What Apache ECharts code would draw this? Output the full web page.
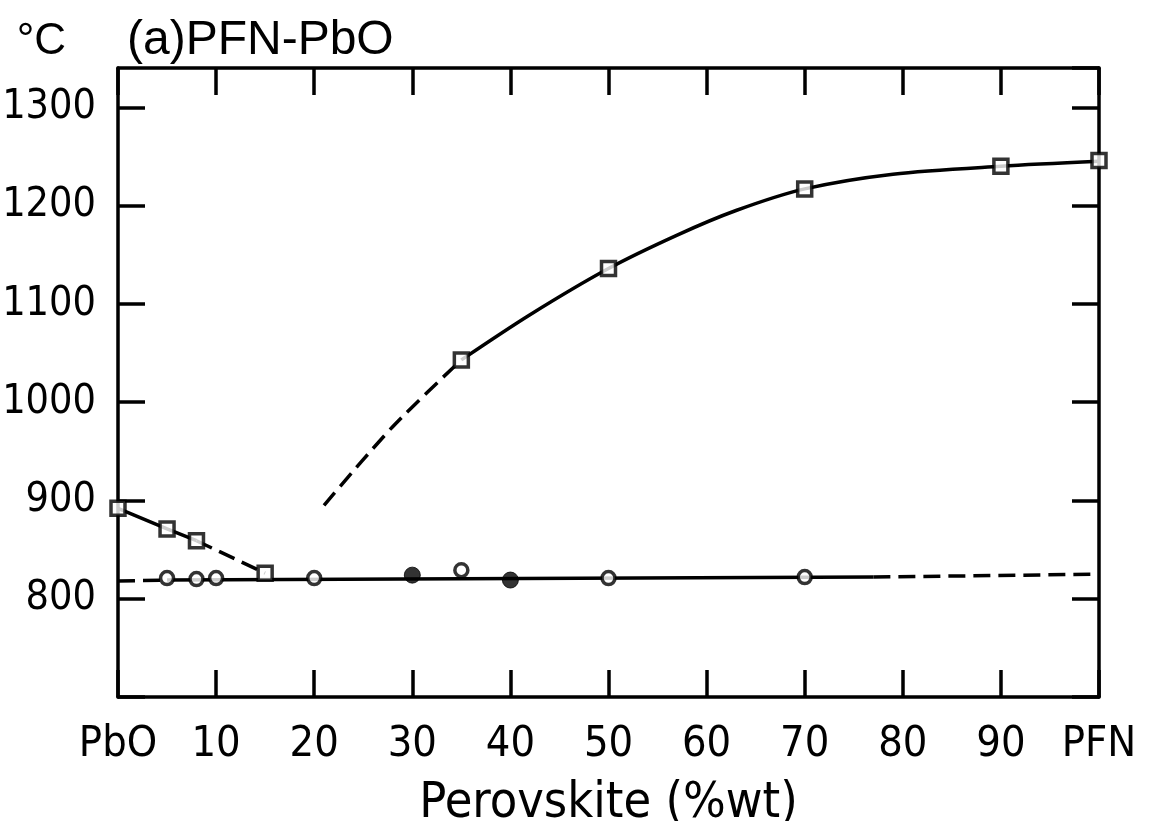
<!DOCTYPE html>
<html>
<head>
<meta charset="utf-8">
<title>PFN-PbO phase diagram</title>
<script src="https://cdn.jsdelivr.net/npm/echarts@6/dist/echarts.min.js"></script>
<style>
  html, body { margin: 0; padding: 0; background: #fff; }
  #chart { width: 1152px; height: 821px; }
</style>
</head>
<body>
<div id="chart"></div>
<script>
// Composition axis end members (0 %wt and 100 %wt perovskite)
const xEndLabels = { 0: 'PbO', 100: 'PFN' };

// Liquidus measurements (open squares), composition in %wt, temperature in °C
const liquidusX = [0, 5, 8, 15, 35, 50, 70, 90, 100];
const liquidusT = [892, 871, 859, 826, 1043, 1136, 1217, 1240, 1246];

// Solidus measurements: open circles and filled circles
const solidusOpenX = [5, 8, 10, 20, 35, 50, 70];
const solidusOpenT = [821, 820, 821, 821, 829, 821, 822];
const solidusFilledX = [30, 40];
const solidusFilledT = [824, 819];

// Drawn boundary curves
const liqLeftSolid   = [[0, 892], [5, 871], [8, 859]];
const liqLeftDashed  = [[8, 859], [15, 826]];
const liqRightDashed = [[21, 895], [28, 975], [35, 1043]];
const liqRightSolid  = [[35, 1043], [42, 1089], [50, 1136], [57, 1170], [63, 1195],
                        [70, 1217], [79, 1232], [90, 1240], [100, 1245]];
const solLeftDashed  = [[0, 818], [5, 819]];
const solSolid       = [[5, 819], [77, 822]];
const solRightDashed = [[77, 822], [100, 825]];

const zip = (xs, ys) => xs.map((x, i) => [x, ys[i]]);

const INK = '#000';
const LABEL_FONT = '"Liberation Sans Narrow", "Arial Narrow", "DejaVu Sans Condensed", "Liberation Sans", sans-serif';
const lineW = 3.5;

function frameAxis(extra) {
  return Object.assign({
    axisLine: { show: true, onZero: false, lineStyle: { color: INK, width: lineW } },
    axisTick: { show: true, inside: true, length: 27, lineStyle: { color: INK, width: lineW } },
    splitLine: { show: false }
  }, extra);
}

function curve(data, dashed, smooth) {
  return {
    type: 'line',
    data: data,
    showSymbol: false,
    symbol: 'none',
    smooth: smooth ? 0.3 : false,
    silent: true,
    z: 2,
    lineStyle: { color: INK, width: lineW, type: dashed ? [17, 8] : 'solid' }
  };
}

const chart = echarts.init(document.getElementById('chart'), null, { renderer: 'canvas' });

chart.setOption({
  backgroundColor: '#fff',
  animation: false,
  title: {
    text: '(a)PFN-PbO',
    left: 122,
    top: 12,
    textStyle: { fontFamily: '"Liberation Sans", Arial, sans-serif', fontSize: 48, fontWeight: 'normal', color: INK }
  },
  grid: { left: 118, right: 53, top: 68, bottom: 124, outerBoundsMode: 'none', containLabel: false },
  xAxis: [
    frameAxis({
      type: 'value', position: 'bottom', min: 0, max: 100, interval: 10,
      name: 'Perovskite (%wt)', nameLocation: 'middle', nameGap: 82,
      nameTextStyle: { fontFamily: LABEL_FONT, fontSize: 50, color: INK },
      axisLabel: {
        show: true, margin: 26, fontFamily: LABEL_FONT, fontSize: 43, color: INK,
        formatter: v => (xEndLabels[v] !== undefined ? xEndLabels[v] : String(v))
      }
    }),
    frameAxis({
      type: 'value', position: 'top', min: 0, max: 100, interval: 10,
      axisLabel: { show: false }
    })
  ],
  yAxis: [
    frameAxis({
      type: 'value', position: 'left', min: 700, max: 1340, interval: 100,
      name: '°C', nameLocation: 'end', nameGap: 0,
      nameTextStyle: {
        fontFamily: '"Liberation Sans", Arial, sans-serif', fontSize: 44, color: INK,
        align: 'right', verticalAlign: 'bottom', padding: [0, 52, 4, 0]
      },
      axisLabel: {
        show: true, margin: 22, fontFamily: LABEL_FONT, fontSize: 41, color: INK,
        showMaxLabel: false,
        formatter: v => (v >= 800 && v <= 1300 ? String(v) : '')
      }
    }),
    frameAxis({
      type: 'value', position: 'right', min: 700, max: 1340, interval: 100,
      axisLabel: { show: false }
    })
  ],
  series: [
    curve(liqLeftSolid, false, false),
    curve(liqLeftDashed, true, false),
    curve(liqRightDashed, true, true),
    curve(liqRightSolid, false, true),
    curve(solLeftDashed, true, false),
    curve(solSolid, false, false),
    curve(solRightDashed, true, false),
    {
      type: 'scatter', data: zip(liquidusX, liquidusT), symbol: 'rect', symbolSize: 14, z: 5,
      itemStyle: { color: '#fff', borderColor: INK, borderWidth: 3.5 }
    },
    {
      type: 'scatter', data: zip(solidusOpenX, solidusOpenT), symbol: 'circle', symbolSize: 13, z: 5,
      itemStyle: { color: '#fff', borderColor: INK, borderWidth: 3.5 }
    },
    {
      type: 'scatter', data: zip(solidusFilledX, solidusFilledT), symbol: 'circle', symbolSize: 16, z: 5,
      itemStyle: { color: INK, borderColor: INK, borderWidth: 1 }
    }
  ]
});
</script>
</body>
</html>
